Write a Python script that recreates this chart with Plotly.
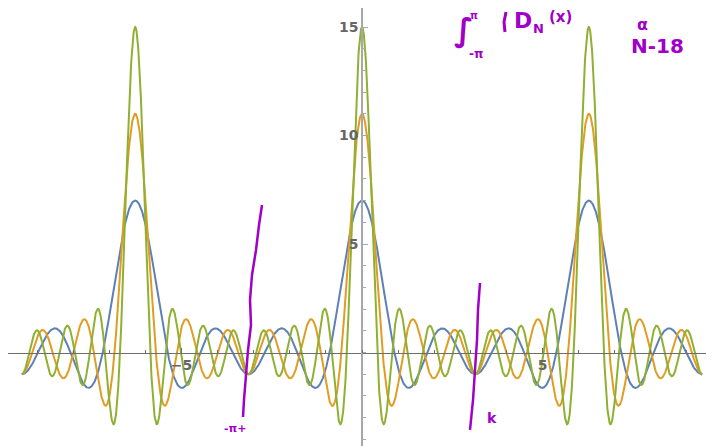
import numpy as np
import plotly.graph_objects as go

# Dirichlet kernels D_N(x) = 1 + 2*sum_{k=1..N} cos(kx), plotted on [-3pi, 3pi]
orders = [3, 5, 7]
colors = ["#5E81B5", "#E19C24", "#8FB032"]
x_min, x_max = -3 * np.pi, 3 * np.pi
x_ticks_major = [-5, 5]
y_ticks_major = [5, 10, 15]
x_minor = list(range(-9, 10))
y_minor = list(range(-4, 17))

x = np.linspace(x_min, x_max, 3000)

fig = go.Figure()
for n, c in zip(orders, colors):
    y = 1 + 2 * sum(np.cos(k * x) for k in range(1, n + 1))
    fig.add_trace(go.Scatter(x=x, y=y, mode="lines", line=dict(color=c, width=2),
                             name=f"N={n}", hoverinfo="skip"))

# the page body has an 8px margin, so the figure starts at window pixel (8, 8)
OFF = 8
W, H = 714 - OFF, 446 - OFF
x0px, xscale = 362.0 - OFF, 36.1
y0px, yscale = 352.5 - OFF, 21.7
xr = [(0 - x0px) / xscale, (W - x0px) / xscale]
yr = [(y0px - H) / yscale, (y0px - 0) / yscale]

tickfont = dict(family="DejaVu Sans", size=14, color="#666666", weight="bold")
fig.update_layout(
    width=W, height=H, margin=dict(l=0, r=0, t=0, b=0),
    paper_bgcolor="white", plot_bgcolor="white", showlegend=False,
    xaxis=dict(domain=[0, 1], range=xr, anchor="free", position=(H - y0px) / H,
               showgrid=False, zeroline=False, showline=True, linecolor="#6e6e6e", linewidth=1,
               tickmode="array", tickvals=x_ticks_major, ticks="inside", ticklen=5,
               tickcolor="#6e6e6e", tickfont=tickfont,
               minor=dict(tickmode="array", tickvals=x_minor, ticks="inside", ticklen=3,
                          tickcolor="#6e6e6e", showgrid=False)),
    yaxis=dict(domain=[0, 1], range=yr, anchor="free", position=x0px / W,
               showgrid=False, zeroline=False, showline=True, linecolor="#a8a8a8", linewidth=1.5,
               tickmode="array", tickvals=y_ticks_major, ticks="inside", ticklen=5,
               tickcolor="#a8a8a8", tickfont=tickfont,
               minor=dict(tickmode="array", tickvals=y_minor, ticks="inside", ticklen=3,
                          tickcolor="#a8a8a8", showgrid=False)),
)

# handwritten purple annotations (approximate), positions in window pixels
purple = "#A100C8"
def px_to_data(px, py):
    return (px - OFF - x0px) / xscale, (y0px - (py - OFF)) / yscale

def stroke(points, width=2.5):
    pts = [px_to_data(a, b) for a, b in points]
    path = "M " + " L ".join(f"{a:.3f},{b:.3f}" for a, b in pts)
    fig.add_shape(type="path", path=path, xref="x", yref="y",
                  line=dict(color=purple, width=width), layer="above")

stroke([(262, 205), (259, 225), (256, 250), (252, 275), (250, 300), (251, 325),
        (248, 350), (246, 375), (244, 400), (243, 417)])
stroke([(480, 283), (478, 310), (477, 340), (475, 370), (473, 400), (470, 430)])
stroke([(506, 12), (504, 22), (505, 32)], width=3)

for txt, px, py, sz in [("∫", 464, 30, 32), ("-π", 476, 54, 12), ("π", 474, 15, 10),
                        ("D", 523, 20, 22), ("N", 538, 28, 13), ("(x)", 560, 17, 15),
                        ("α", 642, 24, 16), ("N-18", 657, 46, 20),
                        ("-π+", 235, 428, 11), ("k", 492, 418, 14)]:
    fig.add_annotation(x=(px - OFF) / W, y=1 - (py - OFF) / H, xref="paper", yref="paper",
                       xanchor="center", yanchor="middle",
                       text=txt, showarrow=False,
                       font=dict(color=purple, size=sz, family="DejaVu Sans", weight="bold"))

fig.write_html("out.html")
